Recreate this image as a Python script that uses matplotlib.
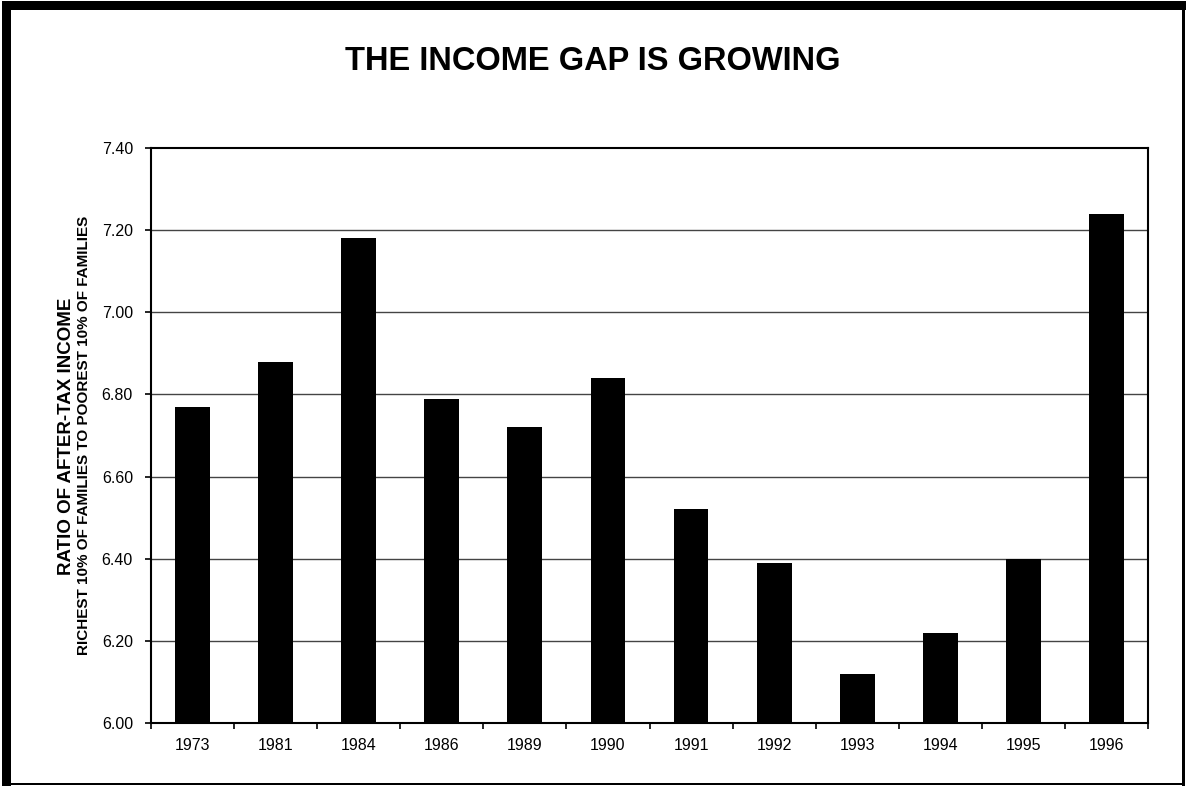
import matplotlib
matplotlib.use("Agg")
import matplotlib.pyplot as plt
from matplotlib.patches import Rectangle

years = ["1973", "1981", "1984", "1986", "1989", "1990",
         "1991", "1992", "1993", "1994", "1995", "1996"]
ratios = [6.77, 6.88, 7.18, 6.79, 6.72, 6.84,
          6.52, 6.39, 6.12, 6.22, 6.40, 7.24]
y_ticks = [6.00, 6.20, 6.40, 6.60, 6.80, 7.00, 7.20, 7.40]

plt.rcParams["font.family"] = ["Liberation Sans", "DejaVu Sans"]

W, H = 1186, 788
fig = plt.figure(figsize=(W / 100, H / 100), dpi=100)
fig.patch.set_facecolor("white")


def px_rect(x0, y0, x1, y1):
    # pixel box (top-left origin) -> rectangle in figure fractions
    return Rectangle((x0 / W, 1 - y1 / H), (x1 - x0) / W, (y1 - y0) / H,
                     transform=fig.transFigure, color="black", lw=0)


# heavy frame around the page, thicker on the top and left
for box in [(2, 1, 11, 786), (2, 1, 1186, 10),
            (1182, 1, 1185, 786), (2, 783, 1185, 785)]:
    fig.patches.append(px_rect(*box))

ax = fig.add_axes([151 / W, 1 - 723 / H, (1148 - 151) / W, (723 - 148) / H])
x = range(len(years))
ax.bar(x, ratios, width=0.42, color="black", zorder=3)

ax.set_xlim(-0.5, len(years) - 0.5)
ax.set_ylim(6.0, 7.4)
ax.set_yticks(y_ticks)
ax.set_yticklabels([f"{v:.2f}" for v in y_ticks])
ax.set_xticks(list(x))
ax.set_xticklabels(years)
# x tick marks sit between the categories
ax.set_xticks([i + 0.5 for i in range(-1, len(years))], minor=True)
ax.tick_params(axis="x", which="major", length=0, pad=11, labelsize=11.5)
ax.tick_params(axis="x", which="minor", length=4, width=1.2, direction="out")
ax.tick_params(axis="y", length=4, width=1.2, direction="out", pad=9,
               labelsize=11.5)

for v in y_ticks[1:-1]:
    ax.axhline(v, color="#444444", lw=1.0, zorder=1)

for side in ["left", "bottom", "top", "right"]:
    ax.spines[side].set_linewidth(1.5)
    ax.spines[side].set_color("black")

fig.text(0.5, 1 - 70 / H, "THE INCOME GAP IS GROWING", ha="center",
         va="baseline", fontsize=23.5, fontweight="bold")
fig.text(66.5 / W, 1 - 436 / H, "RATIO OF AFTER-TAX INCOME", rotation=90,
         ha="center", va="center", fontsize=13.5, fontweight="bold")
fig.text(84 / W, 1 - 435 / H,
         "RICHEST 10% OF FAMILIES TO POOREST 10% OF FAMILIES", rotation=90,
         ha="center", va="center", fontsize=11, fontweight="bold")

fig.savefig("out.png", dpi=100)
